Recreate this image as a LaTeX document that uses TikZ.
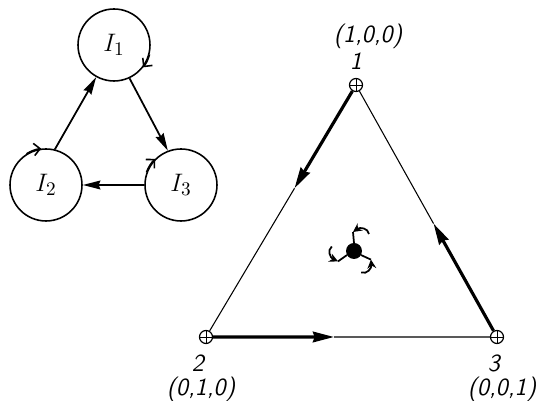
\documentclass[tikz,border=0pt]{standalone}
\usepackage{tikz}
\usetikzlibrary{arrows.meta,positioning,calc}
\begin{document}
\begin{tikzpicture}[x=0.02cm,y=-0.02cm,
  every node/.style={font=\sffamily\itshape\fontsize{14}{16}\selectfont,inner sep=1pt},
  cell/.style={draw,circle,line width=0.9pt,minimum size=1.44cm,inner sep=0pt,font=\fontsize{15}{17}\selectfont},
  vert/.style={draw,circle,line width=0.7pt,minimum size=0.26cm,inner sep=0pt,
    path picture={\draw[line width=0.5pt] (path picture bounding box.north) -- (path picture bounding box.south)
      (path picture bounding box.west) -- (path picture bounding box.east);}},
  link/.style={line width=1pt,-{Stealth[length=10pt,width=5pt,inset=1pt]}},
  turn/.style={line width=0.9pt,-{Straight Barb[length=3.5pt,width=7pt]}},
  heavy/.style={line width=1.8pt,-{Stealth[length=12pt,width=6pt,inset=1pt]}},
  light/.style={line width=0.6pt},
  swirl/.style={line width=1pt}]
\def\rad{0.72cm}
\useasboundingbox (0,0) rectangle (539,401);

\node[cell] (I1) at (114,45) {$I_1$};
\node[cell] (I2) at (46,185) {$I_2$};
\node[cell] (I3) at (181,185) {$I_3$};
\draw[link] (I2.76) -- (I1.241);
\draw[link] (I1.-65) -- (I3.111);
\draw[link] (I3.180) -- (I2.0);
\draw[turn] (I1.-15) arc[start angle=-15,end angle=-38,radius=\rad];
\draw[turn] (I2.122) arc[start angle=122,end angle=97,radius=\rad];
\draw[turn] (I3.160) arc[start angle=160,end angle=134,radius=\rad];

\node[vert] (A) at (356,85) {};
\node[vert] (B) at (206,337) {};
\node[vert] (C) at (497,337) {};
\draw[heavy] (A) -- ($(A)!0.41!(B)$) coordinate (ab);
\draw[light] (ab) -- (B);
\draw[heavy] (B) -- ($(B)!0.44!(C)$) coordinate (bc);
\draw[light] (bc) -- (C);
\draw[heavy] (C) -- ($(C)!0.45!(A)$) coordinate (ca);
\draw[light] (ca) -- (A);

\node[above=0.12cm of A] (n1) {1};
\node[above=0pt of n1,xshift=0.24cm] (p1) {(1,0,0)};
\node[below=0.17cm of B,xshift=-0.16cm] (n2) {2};
\node[below=0.02cm of n2,xshift=0.06cm] (p2) {(0,1,0)};
\node[below=0.17cm of C,xshift=-0.06cm] (n3) {3};
\node[below=0.02cm of n3,xshift=0.16cm] (p3) {(0,0,1)};

\node[circle,fill,minimum size=0.32cm,inner sep=0pt] (O) at (354,251) {};
\foreach \a in {0,120,240}{
  \begin{scope}[shift={(O)},rotate=\a]
    \draw[swirl,-{Stealth[length=5pt,width=5pt]}] (15,-17) .. controls (14,-23) and (6,-24) .. (-1,-19);
    \draw[swirl] (-1,-19) -- (0,-8);
  \end{scope}}
\end{tikzpicture}
\end{document}
